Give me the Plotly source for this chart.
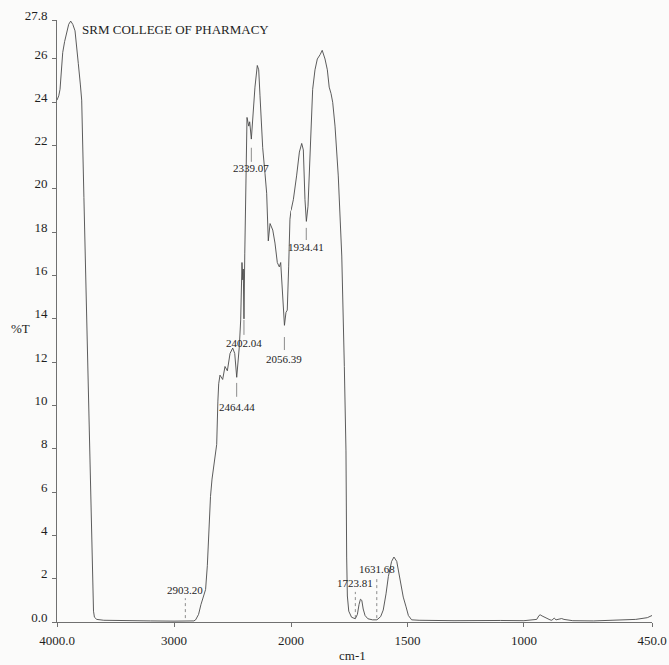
import plotly.graph_objects as go

# ---- data: 4000-2000 cm-1 (compressed scale) ----
wn_high = [4000, 3985, 3974, 3962, 3951, 3935, 3917, 3900, 3883, 3865, 3846, 3830, 3818, 3800,
           3789, 3770, 3750, 3730, 3710, 3700, 3693, 3688, 3680, 3660, 3600, 3400, 3200, 3000,
           2900, 2830, 2815, 2800, 2790, 2770, 2750, 2730, 2715, 2705, 2698, 2688, 2675, 2665,
           2650, 2635, 2625, 2618, 2607, 2584, 2564, 2544, 2521, 2498, 2481, 2464, 2442, 2430,
           2419, 2412, 2408, 2402, 2395, 2385, 2376, 2361, 2353, 2339, 2308, 2288, 2276, 2265,
           2242, 2222, 2208, 2194, 2179, 2156, 2137, 2117, 2100, 2088, 2077, 2066, 2056, 2043,
           2032, 2020, 2009, 2000]
t_high = [24.1, 24.3, 24.6, 25.5, 26.3, 26.8, 27.2, 27.6, 27.75, 27.6, 27.3, 26.6, 25.8, 24.8,
          24.1, 19.6, 14.8, 10.1, 5.3, 2.9, 1.2, 0.5, 0.22, 0.12, 0.08, 0.05, 0.05, 0.04,
          0.04, 0.05, 0.1, 0.22, 0.35, 0.8, 1.17, 1.5, 2.6, 3.8, 4.2, 5.8, 6.6, 7.0,
          7.6, 8.2, 10.2, 11.0, 11.4, 11.2, 11.8, 11.6, 12.4, 12.65, 12.4, 11.3, 12.7, 13.95,
          16.6, 15.8, 16.3, 14.0, 17.0, 21.5, 23.3, 22.9, 23.1, 22.3, 24.7, 25.7, 25.5, 24.3,
          21.9, 20.7, 19.8, 17.6, 18.4, 18.1, 17.5, 16.6, 16.4, 16.6, 15.5, 14.3, 13.7, 14.3,
          14.4, 16.4, 18.6, 19.0]

# ---- data: 2000-450 cm-1 (expanded scale) ----
wn_low = [2000, 1990, 1976, 1964, 1954, 1947, 1940, 1934, 1927, 1918, 1907, 1897, 1887, 1875,
          1866, 1854, 1844, 1836, 1828, 1821, 1811, 1797, 1782, 1771, 1764, 1761, 1758, 1752,
          1740, 1724, 1715, 1708, 1702, 1696, 1690, 1682, 1670, 1650, 1631, 1615, 1604, 1592,
          1582, 1568, 1558, 1546, 1532, 1518, 1506, 1496, 1482, 1450, 1300, 1200, 1100, 1000,
          960, 945, 935, 930, 922, 912, 900, 888, 880, 870, 862, 850, 838, 828, 815, 790,
          700, 600, 520, 470, 455, 450]
t_low = [19.0, 19.5, 20.6, 21.7, 22.1, 21.8, 19.5, 18.5, 19.2, 21.5, 24.6, 25.5, 26.0, 26.2,
         26.4, 26.0, 25.5, 24.7, 24.4, 24.0, 22.9, 20.6, 16.9, 11.8, 7.9, 3.0, 1.2, 0.5,
         0.22, 0.15, 0.35, 0.8, 1.05, 1.0, 0.6, 0.3, 0.15, 0.1, 0.1, 0.25, 0.55, 1.3,
         2.1, 2.8, 3.0, 2.8, 1.9, 1.15, 0.7, 0.3, 0.1, 0.08, 0.06, 0.08, 0.07, 0.06,
         0.08, 0.12, 0.3, 0.33, 0.28, 0.22, 0.15, 0.1, 0.08, 0.18, 0.1, 0.12, 0.16, 0.12, 0.1, 0.06,
         0.05, 0.08, 0.12, 0.2, 0.25, 0.3]

# ---- peak marks ----
peak_wn = [2903.20, 2464.44, 2402.04, 2339.07, 2056.39, 1934.41, 1723.81, 1631.68]
peak_label_t = [1.48, 9.93, 12.89, 20.97, 12.15, 17.3, 1.8, 2.45]
peak_line_t0 = [0.18, 10.4, 13.26, 21.25, 12.56, 17.64, 0.18, 0.18]
peak_line_t1 = [1.1, 11.04, 13.95, 21.9, 13.16, 18.2, 1.39, 2.03]

xt_high_vals = [4000, 3000]
xt_high_text = ["4000.0", "3000"]
xt_low_vals = [2000, 1500, 1000, 450]
xt_low_text = ["2000", "1500", "1000", "450.0"]
yt_vals = [0, 2, 4, 6, 8, 10, 12, 14, 16, 18, 20, 22, 24, 26, 27.8]
yt_text = ["0.0", "2", "4", "6", "8", "10", "12", "14", "16", "18", "20", "22", "24", "26", "27.8"]

FONT = "Liberation Serif"
LINE = "#4a4a4a"
AX = "#707070"
TXT = "#1e1e1e"

fig = go.Figure()
fig.add_trace(go.Scatter(x=wn_high, y=t_high, mode="lines", xaxis="x", yaxis="y",
                         line=dict(color=LINE, width=0.9), showlegend=False, hoverinfo="skip"))
fig.add_trace(go.Scatter(x=wn_low, y=t_low, mode="lines", xaxis="x2", yaxis="y",
                         line=dict(color=LINE, width=0.9), showlegend=False, hoverinfo="skip"))

annotations = []
shapes = []
for wn, lt, l0, l1 in zip(peak_wn, peak_label_t, peak_line_t0, peak_line_t1):
    xr = "x" if wn > 2000 else "x2"
    annotations.append(dict(x=wn, y=lt, xref=xr, yref="y", text=f"{wn:.2f}", showarrow=False,
                            xanchor="center", yanchor="middle",
                            font=dict(family=FONT, size=11, color=TXT)))
    shapes.append(dict(type="line", xref=xr, yref="y", x0=wn, x1=wn, y0=l0, y1=l1,
                       line=dict(color=AX, width=0.8, dash="dot" if l0 < 0.5 else "solid")))

annotations += [
    dict(x=0.039, y=0.985, xref="paper", yref="paper", text="SRM COLLEGE OF PHARMACY",
         showarrow=False, xanchor="left", yanchor="middle",
         font=dict(family=FONT, size=13, color=TXT)),
    dict(x=-0.062, y=0.488, xref="paper", yref="paper", text="%T", showarrow=False,
         xanchor="center", yanchor="middle", font=dict(family=FONT, size=13, color=TXT)),
    dict(x=0.497, y=-0.055, xref="paper", yref="paper", text="cm-1", showarrow=False,
         xanchor="center", yanchor="middle", font=dict(family=FONT, size=13, color=TXT)),
]

axis_common = dict(showgrid=False, zeroline=False, showline=True, linecolor=AX, linewidth=1,
                   ticks="outside", ticklen=4, tickcolor=AX, automargin=False,
                   tickfont=dict(family=FONT, size=13, color=TXT))
d1 = 234 / 595
fig.update_layout(
    width=669, height=665,
    margin=dict(l=57, r=17, t=20, b=43, autoexpand=False),
    paper_bgcolor="#fbfbfa", plot_bgcolor="#fbfbfa",
    xaxis=dict(domain=[0, d1], range=[4000, 2000], tickvals=xt_high_vals, ticktext=xt_high_text,
               anchor="y", ticklabelstandoff=2, **axis_common),
    xaxis2=dict(domain=[d1, 1], range=[2000, 450], tickvals=xt_low_vals, ticktext=xt_low_text,
                anchor="y", ticklabelstandoff=2, **axis_common),
    yaxis=dict(range=[0, 27.8], tickvals=yt_vals, ticktext=yt_text, anchor="x",
               ticklabelshift=-5, ticklabelstandoff=2, **axis_common),
    annotations=annotations, shapes=shapes,
)

fig.write_html("out.html", config={"displayModeBar": False},
               post_script="document.body.style.margin='0';document.body.style.overflow='hidden';")
